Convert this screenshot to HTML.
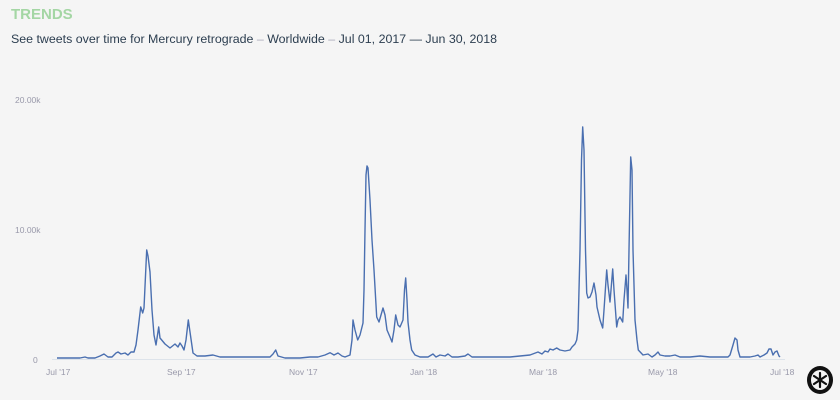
<!DOCTYPE html>
<html><head><meta charset="utf-8"><style>
html,body{margin:0;padding:0;background:#f5f5f5;width:840px;height:400px;overflow:hidden;font-family:"Liberation Sans",Arial,sans-serif}
</style></head><body>
<svg width="840" height="400" xmlns="http://www.w3.org/2000/svg">
<rect width="840" height="400" fill="#f5f5f5"/>
<text x="11" y="19" font-size="15" font-weight="bold" fill="#a4d6a4">TRENDS</text>
<text x="11" y="43" font-size="12.4" fill="#2c3e50">See tweets over time for Mercury retrograde <tspan fill="#aab">–</tspan> Worldwide <tspan fill="#aab">–</tspan> Jul 01, 2017 — Jun 30, 2018</text>
<g font-size="8.5" fill="#99a">
<text x="15" y="103">20.00k</text>
<text x="15" y="233">10.00k</text>
<text x="33" y="363">0</text>
<text x="46" y="375">Jul '17</text>
<text x="167" y="375">Sep '17</text>
<text x="289" y="375">Nov '17</text>
<text x="410" y="375">Jan '18</text>
<text x="529" y="375">Mar '18</text>
<text x="648" y="375">May '18</text>
<text x="770" y="375">Jul '18</text>
</g>
<line x1="52" y1="359.5" x2="785" y2="359.5" stroke="#dde3ea" stroke-width="1"/>
<polyline fill="none" stroke="#4a6fb0" stroke-width="1.4" stroke-linejoin="round" points="
57,358 70,358 80,358 85,357 88,358 95,358 100,356 104,354 108,357 112,357 116,353 118,352 121,354 125,353 128,355 131,352 134,352 136,345 138,330 140.7,307 142.7,313 144,308 146.7,250 148,256 150,272 152,310 154,335 156,345 158.7,327 160,338 161.7,340 165,344 170,348 175,344 178,347 180,343 182,346 184,350 186,340 188.3,320 190,332 193,353 197,356 205,356 213,355 220,357 230,357 240,357 250,357 260,357 270,357 273,354 275.7,350 278,356 285,358 300,358 310,357 318,357 325,355 330,352.7 334,355 338,353 342,356 345,357 350,355 352,340 353,320 355,330 357.7,340 360,335 363,323 364,290 365,230 366,175 367,166 368,168 370,200 372,240 374,270 376.7,317 379,322 381,315 383,308 385,315 387,330 390,337 392,342 394,330 395.7,315 398,325 400,327 403,320 404.5,290 405.7,278 407,300 408,322 410,340 411.7,350 415,355 420,357 428,357 433,354 436,357 440,355 445,356 448,354 452,357 458,357 465,356 468,354 472,357 480,357 490,357 500,357 510,357 520,356 530,355 538,352 542,354 545,351 548,352 550,349 553,350 556.7,348 560,350 565,351 570,350 572,347 575,344 576.7,340 578,330 580,250 581.5,160 582.7,127 584,150 585.5,250 586.7,293 588,298 590,297 592,292 594,283 596,295 597,307 600,320 602.7,328 604,310 606.7,270 608,285 610,302 611,290 612.7,269 614,290 616.7,327 618,320 620,317 622.7,322 624,300 626,275 627,290 628,308 629,250 630.7,157 632,170 633,250 635,320 637,340 638.3,350 643,355 648,354 652,357 655,355 658,352 660,355 665,356 670,356 675,355 680,357 690,357 700,356 710,357 720,357 728,357 730,355 733,345 735,338 737,340 738,350 740,357 745,357 750,357 755,356 758,355 760,357 764,355 767,353 769,349 771,349 773,355 775,352 777,351 779,356 780,357"/>
<g transform="translate(820,380)">
<ellipse cx="0" cy="0" rx="13" ry="14" fill="#111"/>
<ellipse cx="0" cy="0" rx="9" ry="10" fill="#f5f5f5"/>
<g stroke="#111" stroke-width="2.2" stroke-linecap="round">
<line x1="0" y1="-7" x2="0" y2="7"/><line x1="-6" y1="-4" x2="6" y2="4"/><line x1="-6" y1="4" x2="6" y2="-4"/>
</g>
</g>
</svg>
</body></html>
